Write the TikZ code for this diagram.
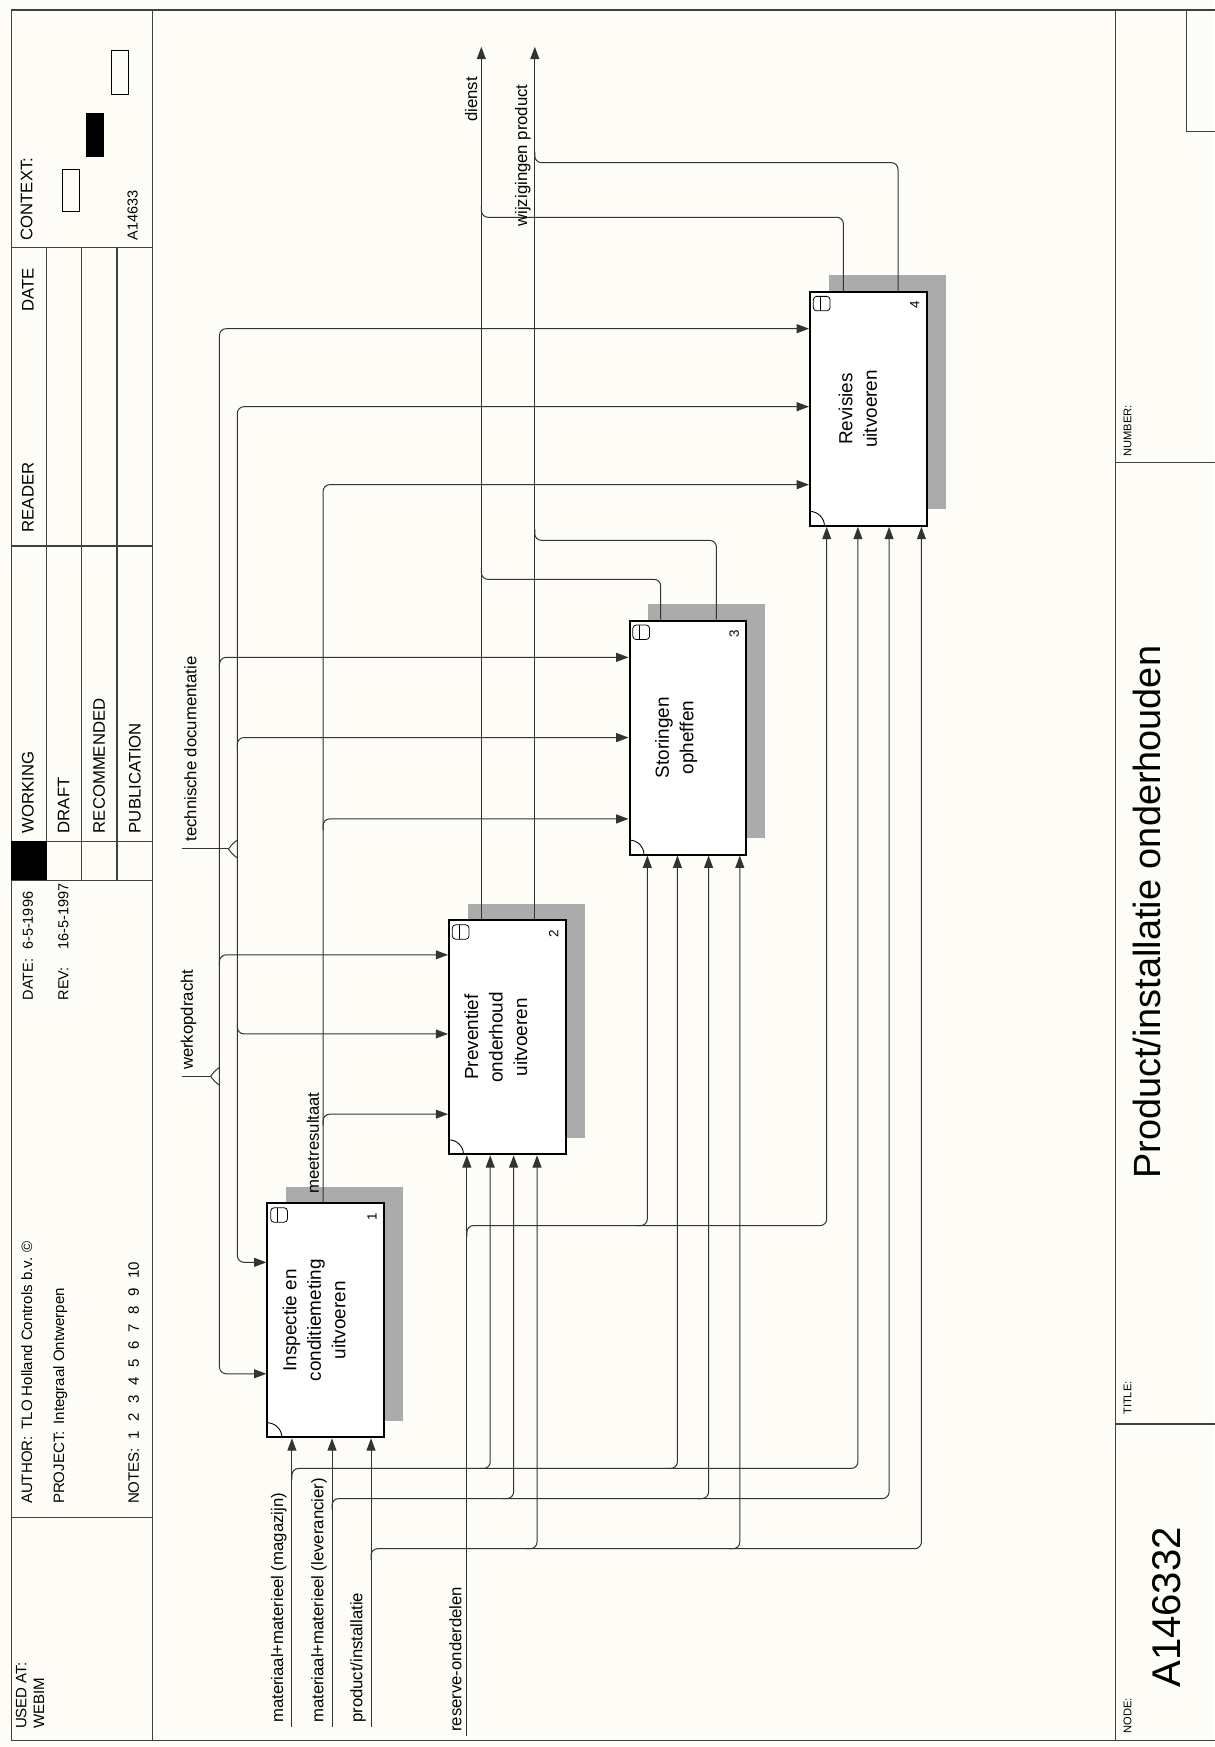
\documentclass[tikz,border=0pt]{standalone}
\usepackage{fontspec}
\setmainfont{Liberation Sans}
\usetikzlibrary{arrows.meta,calc}
\definecolor{paper}{RGB}{253,252,247}
\begin{document}
\begin{tikzpicture}[x=1pt,y=-1pt,
  conn/.style={line width=0.9pt, draw=black!80},
  arr/.style={-{Triangle[length=11pt,width=8pt]}},
  rc/.style={rounded corners=6pt},
  pbox/.style={draw, line width=1.8pt, fill=white, minimum width=105pt, minimum height=210pt, inner sep=0pt},
  pshadow/.style={fill=black!33},
  btxt/.style={rotate=90, align=center, inner sep=0pt, font=\fontsize{17}{22}\selectfont},
  lbl/.style={rotate=90, font=\fontsize{15}{16}\selectfont, inner sep=1.5pt, anchor=south west},
  tb/.style={rotate=90, font=\fontsize{15}{17}\selectfont, inner sep=0pt, anchor=west},
  tbm/.style={rotate=90, font=\fontsize{13.5}{16}\selectfont, inner sep=0pt, anchor=west},
  tbs/.style={rotate=90, font=\fontsize{10}{12}\selectfont, inner sep=0pt, anchor=west},
  tbl/.style={line width=1.1pt, draw=black!75},
]
\useasboundingbox (0,0) rectangle (1090,1568);
\fill[paper] (0,0) rectangle (1090,1568);

% ---------- frame and title blocks ----------
\draw[tbl] (10,9) -- (1095,9);
\draw[tbl] (10,1562) -- (1095,1562);
\draw[tbl] (10,9) -- (10,1562);
\draw[tbl] (137,9) -- (137,1562);
\draw[tbl] (10,222) -- (137,222);
\draw[tbl] (10,490) -- (137,490);
\draw[tbl] (10,755) -- (137,755);
\draw[tbl] (10,790) -- (137,790);
\draw[tbl] (10,1362) -- (137,1362);
\draw[tbl] (42,222) -- (42,790);
\draw[tbl] (73,222) -- (73,790);
\draw[tbl] (105,222) -- (105,790);
\fill (10,755) rectangle (42,790);
% context boxes
\draw[line width=0.8pt] (56,152) rectangle (71,190);
\fill (77,101) rectangle (93,141);
\draw[line width=0.8pt] (100,45) rectangle (115,85);

\node[tb] (tctx) at (24,216) {CONTEXT:};
\node[tb, font=\fontsize{13}{15}\selectfont] (tnode) at (119,216) {A14633};
\node[tb] (tdate) at (25,280) {DATE};
\node[tb] (treader) at (25,478) {READER};
\node[tb] (twork) at (25,748) {WORKING};
\node[tb] (tdraft) at (57,748) {DRAFT};
\node[tb] (trec) at (89,748) {RECOMMENDED};
\node[tb] (tpub) at (121,748) {PUBLICATION};
\node[tb, font=\fontsize{13}{15}\selectfont] (tdt) at (25,898) {DATE:\hspace{8pt}6-5-1996};
\node[tb, font=\fontsize{13}{15}\selectfont] (trev) at (57,898) {REV:\hspace{16pt}16-5-1997};
\node[tbm] (tauth) at (24,1350) {AUTHOR:\hspace{6pt}TLO Holland Controls b.v. ©};
\node[tbm] (tproj) at (54,1350) {PROJECT:\hspace{6pt}Integraal Ontwerpen};
\node[tbm] (tnotes) at (120,1350) {NOTES:\hspace{8pt}1\hspace{8.5pt}2\hspace{8.5pt}3\hspace{8.5pt}4\hspace{8.5pt}5\hspace{8.5pt}6\hspace{8.5pt}7\hspace{8.5pt}8\hspace{8.5pt}9\hspace{8.5pt}10};
\node[tbm, align=left] (tused) at (27,1552) {USED AT:\\WEBIM};

% right block
\draw[tbl] (1001,9) -- (1001,1562);
\draw[tbl] (1001,415) -- (1095,415);
\draw[tbl] (1001,1278) -- (1095,1278);
\draw[tbl] (1065,9) -- (1065,118) -- (1095,118);
\node[tbs] (tnodel) at (1012,1556) {NODE:};
\node[tb, font=\fontsize{36}{40}\selectfont] (tnum) at (1047,1515) {A146332};
\node[tbs] (ttitlel) at (1012,1270) {TITLE:};
\node[tb, font=\fontsize{34}{38}\selectfont] (ttitle) at (1029,1058) {Product/installatie onderhouden};
\node[tbs] (tnumberl) at (1012,410) {NUMBER:};

% ---------- activity boxes ----------
\foreach \xa/\ya in {240/1080,403/826,565/557,727/262}{
  \fill[pshadow] ({\xa+17},{\ya-15}) rectangle ({\xa+122},{\ya+195});
}
\node[pbox] (b1) at (292.5,1185) {};
\node[pbox] (b2) at (455.5,931) {};
\node[pbox] (b3) at (617.5,662) {};
\node[pbox] (b4) at (779.5,367) {};

\foreach \xa/\ya/\n in {240/1080/1,403/826/2,565/557/3,727/262/4}{
  \draw[line width=0.7pt, rounded corners=3pt] ({\xa+3},{\ya+4}) rectangle ({\xa+18},{\ya+17});
  \draw[line width=0.7pt] ({\xa+9},{\ya+4}) -- ({\xa+9},{\ya+17});
  \node[rotate=90, font=\fontsize{12}{12}\selectfont, inner sep=0pt] (num\n) at ({\xa+94},{\ya+12}) {\n};
  \draw[line width=0.8pt] (\xa,{\ya+197}) .. controls ({\xa+7},{\ya+197}) and ({\xa+13},{\ya+203}) .. ({\xa+13},{\ya+210});
}

\node[btxt] (t1) at (282,1185) {Inspectie en\\conditiemeting\\uitvoeren};
\node[btxt] (t2) at (445,931) {Preventief\\onderhoud\\uitvoeren};
\node[btxt] (t3) at (607,662) {Storingen\\opheffen};
\node[btxt] (t4) at (770,367) {Revisies\\uitvoeren};

% ---------- controls ----------
% werkopdracht
\coordinate (wk) at (197,966);
\draw[conn,arr,rc] (wk) |- (b4.west |- 0,295);
\draw[conn,arr,rc] (wk) |- (b1.west |- 0,1233);
\draw[conn,arr,rc] (197,867) |- (b2.west |- 0,857);
\draw[conn,arr,rc] (197,600) |- (b3.west |- 0,590);
\node[lbl] (lwk) at (178,962) {werkopdracht};
\draw[conn] (163,966) -- (189,966);
\draw[conn] (197,958) .. controls (193,961) .. (189,966) .. controls (193,971) .. (197,974);
% technische documentatie
\coordinate (td) at (213,762);
\draw[conn,arr,rc] (td) |- (b4.west |- 0,365);
\draw[conn,arr,rc] (td) |- (b1.west |- 0,1133);
\draw[conn,arr,rc] (213,672) |- (b3.west |- 0,662);
\draw[conn,arr,rc] (213,918) |- (b2.west |- 0,928);
\node[lbl] (ltd) at (178,757) {technische documentatie};
\draw[conn] (163,762) -- (205,762);
\draw[conn] (213,754) .. controls (209,757) .. (205,762) .. controls (209,767) .. (213,770);
% meetresultaat
\draw[conn,arr,rc] (b1.north -| 290,0) |- (b4.west |- 0,435);
\draw[conn,arr,rc] (290,1010) |- (b2.west |- 0,1000);
\draw[conn,arr,rc] (290,745) |- (b3.west |- 0,735);
\node[lbl] (lmr) at (288,1073) {meetresultaat};

% ---------- outputs ----------
\coordinate (dienst) at (432,42);
\coordinate (wijz) at (480,42);
\draw[conn,arr] (b2.north -| 432,0) -- (dienst);
\draw[conn,arr] (b2.north -| 480,0) -- (wijz);
\draw[conn,rc] (b3.north -| 593,0) -- (593,520) -- (432,520) -- (432,510);
\draw[conn,rc] (b3.north -| 643,0) -- (643,485) -- (480,485) -- (480,475);
\draw[conn,rc] (b4.north -| 757,0) -- (757,195) -- (432,195) -- (432,185);
\draw[conn,rc] (b4.north -| 806,0) -- (806,146) -- (480,146) -- (480,136);
\node[lbl] (ldienst) at (430,111) {dienst};
\node[lbl] (lwijz) at (478,205) {wijzigingen product};

% ---------- inputs ----------
% reserve-onderdelen
\coordinate (ro) at (419,1558);
\draw[conn,arr] (ro) -- (b2.south -| 419,0);
\draw[conn,arr,rc] (419,1110) -- (419,1100) -| (b4.south -| 742,0);
\draw[conn,arr,rc] (571,1100) -| (b3.south -| 581,0);
\node[lbl] (lro) at (416,1556) {reserve-onderdelen};
% magazijn
\coordinate (mg) at (262,1550);
\draw[conn,arr] (mg) -- (b1.south -| 262,0);
\draw[conn,arr,rc] (262,1328) -- (262,1318) -| (b4.south -| 770,0);
\draw[conn,arr,rc] (430,1318) -| (b2.south -| 440,0);
\draw[conn,arr,rc] (598,1318) -| (b3.south -| 608,0);
\node[lbl] (lmg) at (259,1548) {materiaal+materieel (magazijn)};
% leverancier
\coordinate (lv) at (298,1550);
\draw[conn,arr] (lv) -- (b1.south -| 298,0);
\draw[conn,arr,rc] (298,1355) -- (298,1345) -| (b4.south -| 798,0);
\draw[conn,arr,rc] (451,1345) -| (b2.south -| 461,0);
\draw[conn,arr,rc] (626,1345) -| (b3.south -| 636,0);
\node[lbl] (llv) at (295,1548) {materiaal+materieel (leverancier)};
% product/installatie
\coordinate (pi) at (333,1550);
\draw[conn,arr] (pi) -- (b1.south -| 333,0);
\draw[conn,arr,rc] (333,1400) -- (333,1390) -| (b4.south -| 827,0);
\draw[conn,arr,rc] (472,1390) -| (b2.south -| 482,0);
\draw[conn,arr,rc] (654,1390) -| (b3.south -| 664,0);
\node[lbl] (lpi) at (330,1548) {product/installatie};
\end{tikzpicture}
\end{document}
